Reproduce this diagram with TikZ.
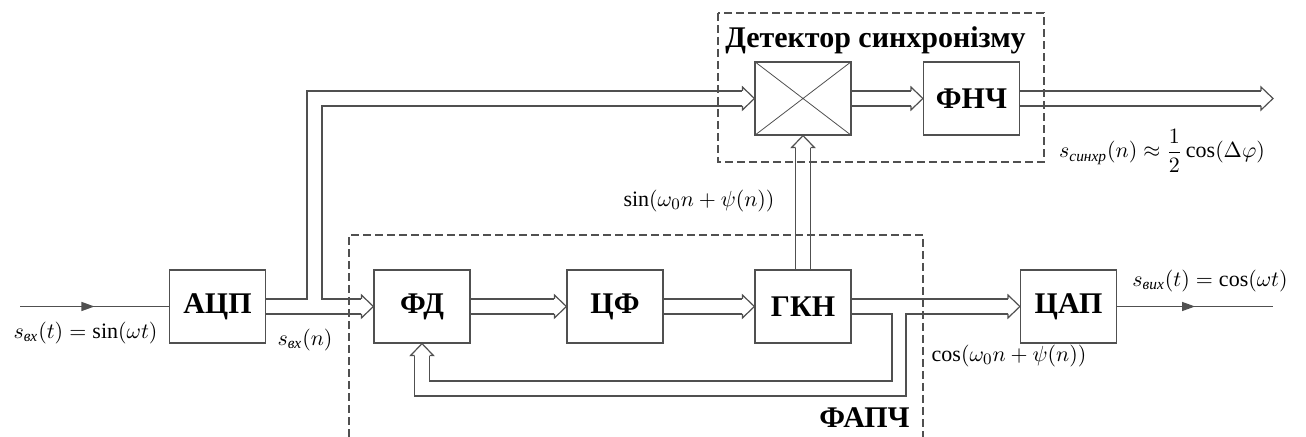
\documentclass[tikz,border=0pt]{standalone}
\usepackage{fontspec}
\setmainfont{Liberation Serif}
\usepackage{amsmath}
\usetikzlibrary{calc,arrows.meta,decorations.markings}
\definecolor{linegray}{RGB}{80,80,80}
\tikzset{%
  block/.style  = {shape=rectangle, draw=linegray, line width=0.6pt,%
                   minimum width=48pt, minimum height=36.5pt, inner sep=0pt,%
                   font=\fontsize{15}{18}\selectfont\bfseries},%
  cross/.style  = {draw=linegray, line width=0.4pt},%
  bus/.style    = {draw=linegray, line width=0.6pt},%
  frame/.style  = {draw=linegray, line width=0.6pt, dash pattern=on 4pt off 2pt},%
  sig/.style    = {draw=linegray, line width=0.6pt, postaction={decorate},%
                   decoration={markings, mark=at position 0.5 with
                   {\arrow[linegray]{Triangle[length=6.5pt,width=4.5pt]}}}},%
  hollowhead/.pic = {\draw[bus] (-12,7.5) -- (-12,11.5) -- (0,0)
                     -- (-12,-11.5) -- (-12,-7.5);}%
}

\begin{document}
\begin{tikzpicture}[x=0.5pt,y=-0.5pt,
	every node/.style = {inner sep=1pt},
	lbl/.style   = {font=\fontsize{11}{13}\selectfont},
	title/.style = {font=\fontsize{15}{18}\selectfont\bfseries}]
	\useasboundingbox (0,0) rectangle (1306,437);
	% blocks
	\node[block] (adc)  at (217.5,306.5) {АЦП};
	\node[block] (fd)   at (422,306.5)   {ФД};
	\node[block] (cf)   at (615,306.5)   {ЦФ};
	\node[block] (gkn)  at (803,306.5)   {ГКН};
	\node[block] (cap)  at (1068.5,306.5) {ЦАП};
	\node[block] (mult) at (803,98.5)    {};
	\node[block] (fnch) at (971.5,98.5)  {ФНЧ};
	\draw[cross] (mult.north west) -- (mult.south east)
	             (mult.north east) -- (mult.south west);
	% frames
	\draw[frame] (718,13) rectangle (1044,162);
	\draw[frame] (349,437) -- (349,235) -- (923,235) -- (923,437);
	\node[title,anchor=base] (dettitle) at (875.5,48) {Детектор синхронізму};
	\node[title,anchor=base] (plltitle) at (864.5,428) {ФАПЧ};
	% analog signals
	\coordinate (in)   at (20,306.5);
	\coordinate (out)  at (1273,306.5);
	\coordinate (sync) at (1273,98.5);
	\draw[sig] (in) -- (adc.west);
	\draw[sig] (cap.east) -- (out);
	% digital buses
	\draw[bus] ($(adc.east)+(0,-7.5)$) -| (307,91) -- ($(mult.west)+(-12,-7.5)$);
	\draw[bus] ($(mult.west)+(-12,7.5)$) -| (322,299) -- ($(fd.west)+(-12,-7.5)$);
	\draw[bus] ($(adc.east)+(0,7.5)$) -- ($(fd.west)+(-12,7.5)$);
	\pic at (mult.west) {hollowhead};
	\pic at (fd.west) {hollowhead};
	\foreach \a/\b in {mult/fnch, fd/cf, cf/gkn} {
		\draw[bus] ($(\a.east)+(0,-7.5)$) -- ($(\b.west)+(-12,-7.5)$);
		\draw[bus] ($(\a.east)+(0,7.5)$) -- ($(\b.west)+(-12,7.5)$);
		\pic at (\b.west) {hollowhead};
	}
	\draw[bus] ($(fnch.east)+(0,-7.5)$) -- ($(sync)+(-12,-7.5)$);
	\draw[bus] ($(fnch.east)+(0,7.5)$) -- ($(sync)+(-12,7.5)$);
	\pic at (sync) {hollowhead};
	\draw[bus] ($(gkn.north)+(-7.5,0)$) -- ($(mult.south)+(-7.5,12)$);
	\draw[bus] ($(gkn.north)+(7.5,0)$) -- ($(mult.south)+(7.5,12)$);
	\pic[rotate=90] at (mult.south) {hollowhead};
	\draw[bus] ($(gkn.east)+(0,-7.5)$) -- ($(cap.west)+(-12,-7.5)$);
	\draw[bus] ($(gkn.east)+(0,7.5)$) -| (892,381) -| ($(fd.south)+(7.5,12)$);
	\draw[bus] ($(cap.west)+(-12,7.5)$) -| (906,396) -| ($(fd.south)+(-7.5,12)$);
	\pic at (cap.west) {hollowhead};
	\pic[rotate=90] at (fd.south) {hollowhead};
	% labels
	\node[lbl] (inlbl)   at (85.5,333) {$s_{\text{\itshape вх}}(t)=\sin(\omega t)$};
	\node[lbl] (adclbl)  at (305,340)  {$s_{\text{\itshape вх}}(n)$};
	\node[lbl] (sinlbl)  at (699,201)  {$\sin(\omega_0 n+\psi(n))$};
	\node[lbl] (synclbl) at (1162,151)
	     {$s_{\text{\itshape синхр}}(n)\approx\dfrac{1}{2}\cos(\Delta\varphi)$};
	\node[lbl] (outlbl)  at (1210,281) {$s_{\text{\itshape вих}}(t)=\cos(\omega t)$};
	\node[lbl] (coslbl)  at (1009,356) {$\cos(\omega_0 n+\psi(n))$};
\end{tikzpicture}
\end{document}
